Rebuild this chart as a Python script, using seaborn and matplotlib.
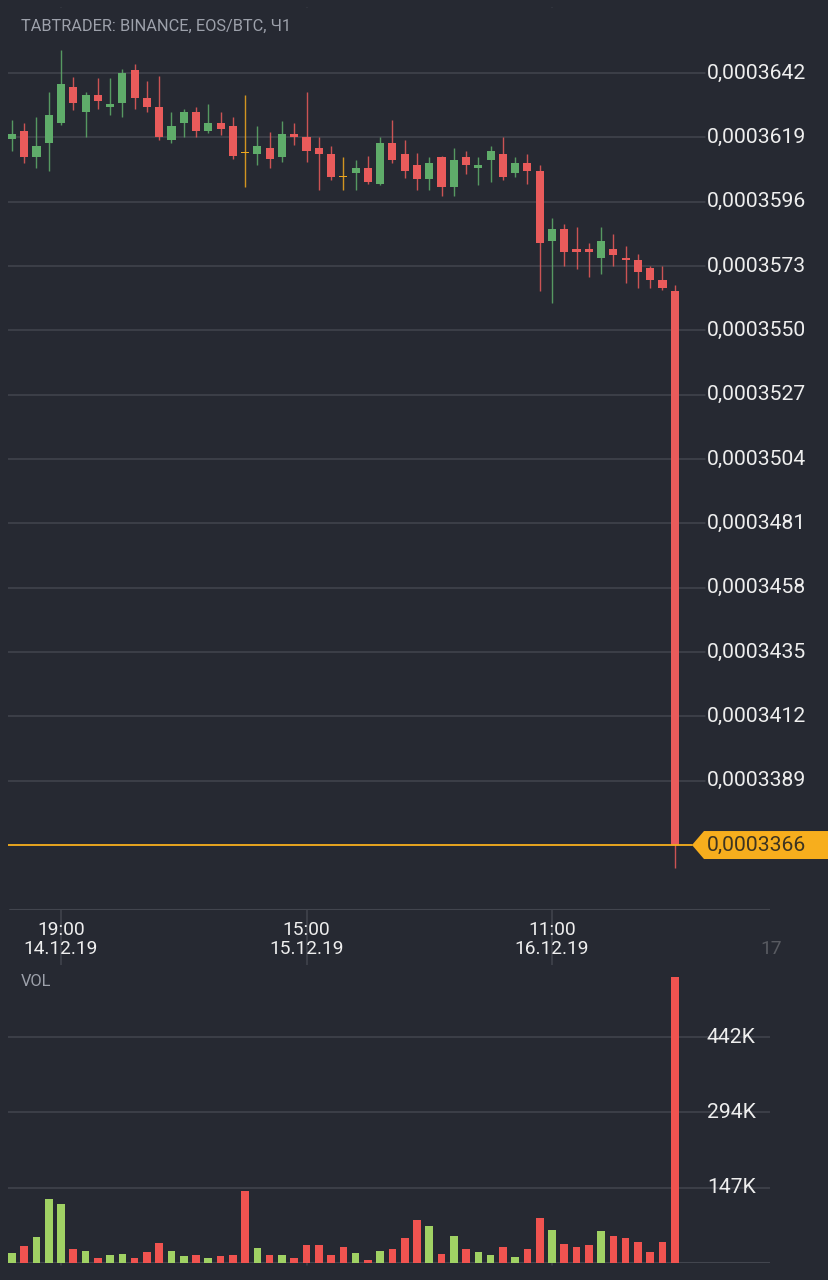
import matplotlib
matplotlib.use("Agg")
import numpy as np
import pandas as pd
import seaborn as sns
import matplotlib.pyplot as plt
import matplotlib.transforms as mtransforms
from matplotlib.patches import Polygon

# hourly EOS/BTC candles, prices in satoshi (1e-8 BTC), 14.12.19 15:00 .. 16.12.19 21:00
opens = [36184, 36213, 36120, 36170, 36241, 36370, 36281, 36341, 36298, 36313,
         36431, 36331, 36298, 36180, 36241, 36281, 36213, 36241, 36231, 36134,
         36130, 36152, 36120, 36202, 36191, 36152, 36130, 36048, 36063, 36080,
         36023, 36170, 36130, 36091, 36041, 36120, 36012, 36120, 36080, 36109,
         36130, 36063, 36098, 36070, 35819, 35862, 35791, 35791, 35759, 35791,
         35759, 35751, 35723, 35680, 35641]
highs = [36252, 36241, 36263, 36352, 36502, 36406, 36352, 36402, 36402, 36434,
         36452, 36391, 36409, 36281, 36291, 36298, 36309, 36281, 36263, 36341,
         36231, 36209, 36248, 36241, 36352, 36191, 36159, 36120, 36109, 36123,
         36191, 36252, 36180, 36134, 36120, 36123, 36152, 36141, 36120, 36159,
         36191, 36120, 36130, 36091, 35902, 35880, 35870, 35812, 35870, 35844,
         35802, 35773, 35730, 35730, 35662]
lows = [36141, 36098, 36080, 36070, 36234, 36288, 36191, 36291, 36270, 36263,
        36291, 36281, 36180, 36170, 36191, 36191, 36206, 36198, 36113, 36012,
        36091, 36080, 36102, 36163, 36102, 36002, 36038, 36002, 36002, 36023,
        36020, 36098, 36045, 36002, 36002, 35980, 35980, 36059, 36020, 36030,
        36038, 36048, 36023, 35641, 35598, 35730, 35719, 35691, 35701, 35730,
        35669, 35651, 35651, 35644, 33578]
closes = [36202, 36120, 36159, 36270, 36381, 36313, 36341, 36320, 36309, 36420,
          36331, 36298, 36191, 36231, 36281, 36213, 36241, 36220, 36123, 36134,
          36159, 36113, 36202, 36191, 36141, 36130, 36048, 36048, 36080, 36030,
          36170, 36109, 36070, 36041, 36098, 36012, 36109, 36091, 36091, 36141,
          36048, 36098, 36070, 35812, 35862, 35780, 35780, 35780, 35819, 35769,
          35751, 35709, 35680, 35651, 33660]
volumes_k = [19.5, 32.5, 50.6, 125, 115, 26.6, 22, 8.5, 14.4, 17,
             8.5, 20, 39.5, 22, 13, 14.4, 8.5, 13, 16, 141.5,
             29.6, 16, 16, 10, 35, 34, 14.4, 31, 19.5, 6,
             22.5, 27, 49, 83.5, 72, 17.5, 52.5, 27, 21, 14.4,
             31, 10.5, 27, 87.6, 63.7, 36.4, 31.5, 34, 61.7, 53,
             48.7, 41, 20, 39.7, 560]

price_ticks = [36420, 36190, 35960, 35730, 35500, 35270, 35040,
               34810, 34580, 34350, 34120, 33890, 33660]
vol_ticks_k = [147, 294.5, 442]
vol_tick_labels = ["147K", "294K", "442K"]
tick_hours = ["19:00", "15:00", "11:00"]
tick_dates = ["14.12.19", "15.12.19", "16.12.19"]
title = "TABTRADER: BINANCE, EOS/BTC, Ч1"

BG = "#262932"
GRID = "#42454e"
UP = "#5fac6a"
DOWN = "#e95b5b"
DOJI = "#f0a81e"
VOL_UP = "#a0d164"
VOL_DOWN = "#f05350"
LAST = "#f7ae1d"
TXT = "#eeeeee"
MUTED = "#9da1ab"

times = pd.date_range("2019-12-14 15:00", periods=len(opens), freq="h")
df = pd.DataFrame({"open": opens, "high": highs, "low": lows, "close": closes,
                   "vol": np.array(volumes_k) * 1000}, index=times)
df["idx"] = np.arange(len(df))
df["kind"] = np.where(df["close"] > df["open"], "up",
                      np.where(df["close"] < df["open"], "down", "doji"))
df["vkind"] = np.where(df["kind"] == "up", "up", "down")

sns.set_theme(style="dark")
plt.rcParams["font.family"] = ["Roboto", "DejaVu Sans"]

W, H = 829, 1280
fig = plt.figure(figsize=(W / 100, H / 100), dpi=100, facecolor=BG)

def px_box(left, top, right, bottom):
    return [left / W, 1 - bottom / H, (right - left) / W, (bottom - top) / H]

ax = fig.add_axes(px_box(8, 8, 770, 910))
axv = fig.add_axes(px_box(8, 965, 770, 1262.7))
for a in (ax, axv):
    a.set_facecolor(BG)
    for s in a.spines.values():
        s.set_visible(False)
    a.set_xticks([])
    a.set_yticks([])
    a.grid(False)

xlim = (-0.318, 61.76)
ax.set_xlim(xlim)
ax.set_ylim(33427.7, 36652.4)
axv.set_xlim(xlim)
axv.set_ylim(0, 583500)

label_x = (707 - 8) / 762
grid_end = (705 - 8) / 762

# price grid + labels
for p in price_ticks[:-1]:
    ax.axhline(p, xmin=0, xmax=grid_end, color=GRID, lw=1.1, zorder=0)
    ax.text(label_x, p, f"{p * 1e-8:.7f}".replace(".", ","), transform=ax.get_yaxis_transform(),
            color=TXT, fontsize=15.2, va="center", ha="left", clip_on=False)
ax.axhline(ax.get_ylim()[0], color=GRID, lw=1.5, xmin=0.003, zorder=0)

# vertical time grid spanning both panels
bt = mtransforms.blended_transform_factory(ax.transData, fig.transFigure)
tick_times = [pd.Timestamp("2019-12-14 19:00") + pd.Timedelta(hours=20 * k) for k in range(3)]
for k, t in enumerate(tick_times):
    xi = (t - times[0]) / pd.Timedelta(hours=1)
    fig.add_artist(plt.Line2D([xi, xi], [1 - 8 / H, 1 - 1265 / H], transform=bt,
                              color=GRID, lw=1.1, zorder=0))
    fig.text(xi, 1 - 930 / H, tick_hours[k], transform=bt, ha="center", va="center",
             color=TXT, fontsize=13.8)
    fig.text(xi, 1 - 949 / H, tick_dates[k], transform=bt, ha="center", va="center",
             color=TXT, fontsize=13.8)
# next date label fading out at the right edge
fig.text(760 / W, 1 - 949 / H, "17", ha="left", va="center", color=TXT, fontsize=13.8, alpha=0.25)

# candles
cmap = {"up": UP, "down": DOWN, "doji": DOJI}
colors = df["kind"].map(cmap).tolist()
ax.vlines(df["idx"], df["low"], df["high"], colors=colors, lw=1.0, alpha=0.85, zorder=2)
body_lo = np.minimum(df["open"], df["close"])
body_h = np.maximum(np.abs(df["close"] - df["open"]), 5)
ax.bar(df["idx"], body_h, bottom=body_lo, width=0.66, color=colors, zorder=3, linewidth=0)

# last price line and tag
last = closes[-1]
ax.axhline(last, xmin=0, xmax=(692 - 8) / 762, color=LAST, lw=1.3, zorder=4)
fig.canvas.draw()
yd = ax.transData.transform((0, last))[1]
tag = Polygon([(692, yd), (704, yd + 14), (W, yd + 14), (W, yd - 14), (704, yd - 14)],
              closed=True, facecolor=LAST, edgecolor="none",
              transform=mtransforms.IdentityTransform())
fig.add_artist(tag)
fig.text(707 / W, yd / H, f"{last * 1e-8:.7f}".replace(".", ","), color="#3d3421",
         fontsize=15.2, va="center", ha="left")

# volume
sns.barplot(data=df, x="idx", y="vol", hue="vkind", palette={"up": VOL_UP, "down": VOL_DOWN},
            native_scale=True, dodge=False, width=0.62, saturation=1, legend=False,
            linewidth=0, ax=axv, zorder=3)
axv.set_xlim(xlim)
axv.set_ylim(0, 583500)
axv.set_xlabel("")
axv.set_ylabel("")
axv.set_xticks([])
axv.set_yticks([])
for v, lab in zip(vol_ticks_k, vol_tick_labels):
    axv.axhline(v * 1000, color=GRID, lw=1.1, zorder=0)
    axv.text(label_x, v * 1000, lab, transform=axv.get_yaxis_transform(), color=TXT,
             fontsize=15.2, va="center", ha="left", clip_on=False)
axv.axhline(0, color=GRID, lw=1.5, zorder=1)

fig.text(21 / W, 1 - 26 / H, title, color=MUTED, fontsize=11.8, va="center", ha="left")
fig.text(21 / W, 1 - 981 / H, "VOL", color=MUTED, fontsize=11.8, va="center", ha="left")

fig.savefig("out.png", dpi=100, facecolor=BG)
